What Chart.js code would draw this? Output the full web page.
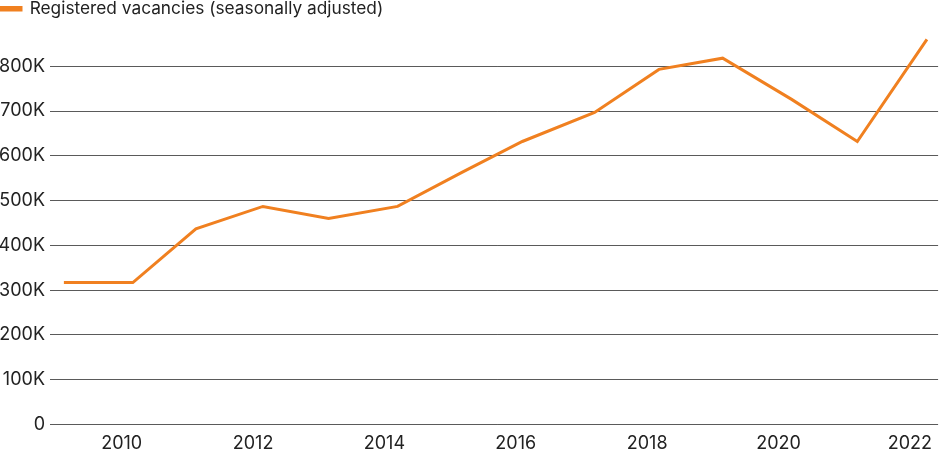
<!DOCTYPE html>
<html>
<head>
<meta charset="utf-8">
<script src="https://cdn.jsdelivr.net/npm/chart.js@4.4.0/dist/chart.umd.min.js"></script>
<style>
  html, body { margin: 0; padding: 0; background: #ffffff; }
  #wrap { width: 940px; height: 453px; position: relative; }
</style>
</head>
<body>
<div id="wrap"><canvas id="c"></canvas></div>
<script>
const seriesLabel = "Registered vacancies (seasonally adjusted)";
const years = [2009.12, 2010.17, 2011.13, 2012.15, 2013.15, 2014.2, 2015.18, 2016.1, 2017.2, 2018.18, 2019.15, 2020.2, 2021.2, 2022.26];
const vacancies = [317000, 317000, 437000, 487000, 460000, 487000, 563000, 632000, 697000, 793000, 818000, 726000, 632000, 860000];
const xTicks = [2010, 2012, 2014, 2016, 2018, 2020, 2022];
const yTicks = [0, 100000, 200000, 300000, 400000, 500000, 600000, 700000, 800000];

const points = years.map((y, i) => ({ x: y, y: vacancies[i] }));
const orange = "#f08020";

new Chart(document.getElementById("c"), {
  type: "line",
  data: {
    datasets: [{
      label: seriesLabel,
      data: points,
      borderColor: orange,
      backgroundColor: orange,
      borderWidth: 3,
      pointRadius: 0,
      tension: 0,
      fill: false
    }]
  },
  options: {
    responsive: true,
    maintainAspectRatio: false,
    animation: false,
    layout: { padding: 0 },
    font: { family: "Inter" },
    plugins: {
      legend: {
        display: true,
        position: "top",
        align: "start",
        labels: {
          boxWidth: 21,
          boxHeight: 2.5,
          padding: 0,
          color: "#222",
          font: { family: "Inter", size: 17.3 }
        }
      },
      tooltip: { enabled: false }
    },
    scales: {
      x: {
        type: "linear",
        min: 2009,
        max: 2022.43,
        afterBuildTicks: (axis) => { axis.ticks = xTicks.map(v => ({ value: v })); },
        afterFit: (axis) => { axis.height = 28.5; },
        grid: { display: false, drawTicks: false },
        border: { display: false },
        ticks: {
          color: "#222",
          padding: 8,
          font: { family: "Inter", size: 18 },
          callback: (v) => String(v)
        }
      },
      y: {
        type: "linear",
        min: 0,
        max: 887000,
        afterBuildTicks: (axis) => { axis.ticks = yTicks.map(v => ({ value: v })); },
        afterFit: (axis) => { axis.width = 56; },
        grid: { color: "#5a5a5a", lineWidth: 1, tickLength: 6 },
        border: { display: false },
        ticks: {
          color: "#222",
          padding: 5,
          font: { family: "Inter", size: 18 },
          callback: (v) => v === 0 ? "0" : (v / 1000) + "K"
        }
      }
    }
  }
});
</script>
</body>
</html>
